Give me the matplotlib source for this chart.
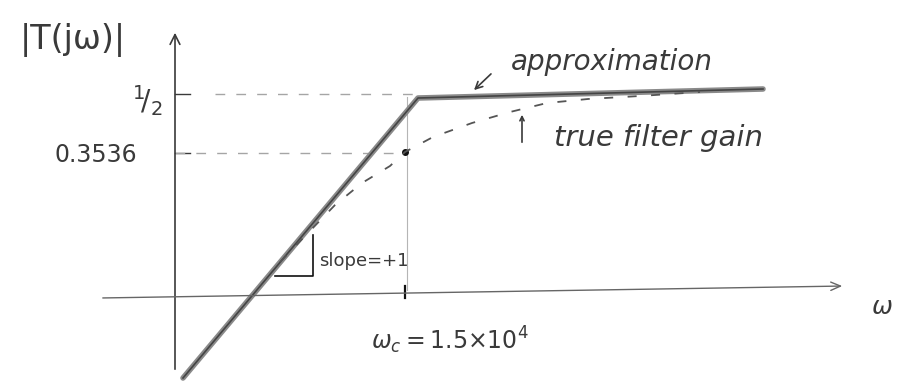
import matplotlib.pyplot as plt

# drawing units: the two axes cross at (0, 0), corner frequency at x = 2.3
approx_x = [0.08, 2.43, 5.88]
approx_y = [-0.81, 1.99, 2.08]

true_x = [1.05, 1.60, 1.87, 2.15, 2.30, 2.58, 2.97, 3.35, 3.72, 4.13, 4.65, 5.25]
true_y = [0.35, 0.92, 1.14, 1.31, 1.45, 1.60, 1.74, 1.85, 1.94, 1.98, 2.01, 2.05]

level_vals = [2.03, 1.44]
level_labels = [r'$^1\!/_2$', '0.3536']
level_start = [0.4, 0.0]
level_end = [2.4, 2.3]

wc_x = 2.30
wc_gain = 1.45
wc_label = r'$\omega_c = 1.5{\times}10^4$'

pencil = '#3a3a3a'
faint = '#a5a5a5'

fig = plt.figure(figsize=(9.07, 3.91), dpi=100)
ax = fig.add_axes([0, 0, 1, 1])
ax.set_xlim(-1.75, 7.32)
ax.set_ylim(-0.94, 2.97)
ax.axis('off')

# axes drawn as hand arrows
ax.annotate('', xy=(0, 2.67), xytext=(0, -0.75),
            arrowprops=dict(arrowstyle='->,head_length=0.7,head_width=0.35',
                            color=pencil, lw=1.2))
ax.annotate('', xy=(6.70, 0.11), xytext=(-0.75, -0.01),
            arrowprops=dict(arrowstyle='->,head_length=0.7,head_width=0.3',
                            color='#666666', lw=1.0))

# level marks on the gain axis
for lv, x0, x1 in zip(level_vals, level_start, level_end):
    ax.plot([0, 0.15], [lv, lv], color=pencil, lw=1.0)
    ax.plot([x0, x1], [lv, lv], color=faint, lw=1.0, ls=(0, (7, 8)))
level_txt_x = [-0.28, -0.38]
level_txt_dy = [-0.07, -0.02]
level_size = [20, 17]
level_ha = ['center', 'right']
for lv, lab, tx, dy, fs, ha in zip(level_vals, level_labels, level_txt_x,
                                   level_txt_dy, level_size, level_ha):
    ax.text(tx, lv + dy, lab, fontsize=fs, ha=ha, va='center', color=pencil)

# corner frequency guide and tick
ax.plot([wc_x + 0.02, wc_x + 0.02], [0.07, 2.0], color='#b5b5b5', lw=0.8)
ax.plot([wc_x, wc_x], [-0.01, 0.11], color='#111111', lw=1.6)
ax.plot([wc_x], [wc_gain], 'o', color='#111111', ms=4)

# straight-line approximation (double pencil stroke)
ax.plot(approx_x, approx_y, color='#8a8a8a', lw=4.0, solid_capstyle='round')
ax.plot(approx_x, approx_y, color='#444444', lw=1.2)

# true filter gain
ax.plot(true_x, true_y, color='#555555', lw=1.3, ls=(0, (5, 8)))

# slope triangle
ax.plot([1.0, 1.38, 1.38], [0.21, 0.21, 0.62], color='#111111', lw=1.2)
ax.text(1.44, 0.36, 'slope=+1', fontsize=13, va='center', color=pencil)

# labels
ax.text(-1.02, 2.57, '|T(jω)|', fontsize=24, ha='center', va='center',
        color=pencil)
ax.text(wc_x + 0.45, -0.43, wc_label, fontsize=17, ha='center', va='center',
        color=pencil)
ax.text(7.07, -0.10, r'$\omega$', fontsize=18, ha='center', va='center',
        color=pencil)

ax.text(4.37, 2.35, 'approximation', fontsize=20, ha='center', va='center',
        color=pencil, style='italic')
ax.annotate('', xy=(2.97, 2.05), xytext=(3.18, 2.25),
            arrowprops=dict(arrowstyle='->,head_length=0.5,head_width=0.25',
                            color=pencil, lw=1.2))

ax.text(4.83, 1.59, 'true filter gain', fontsize=21, ha='center', va='center',
        color=pencil, style='italic')
ax.annotate('', xy=(3.47, 1.85), xytext=(3.47, 1.52),
            arrowprops=dict(arrowstyle='->,head_length=0.3,head_width=0.15',
                            color=pencil, lw=1.2))

fig.savefig('out.png', dpi=100)
